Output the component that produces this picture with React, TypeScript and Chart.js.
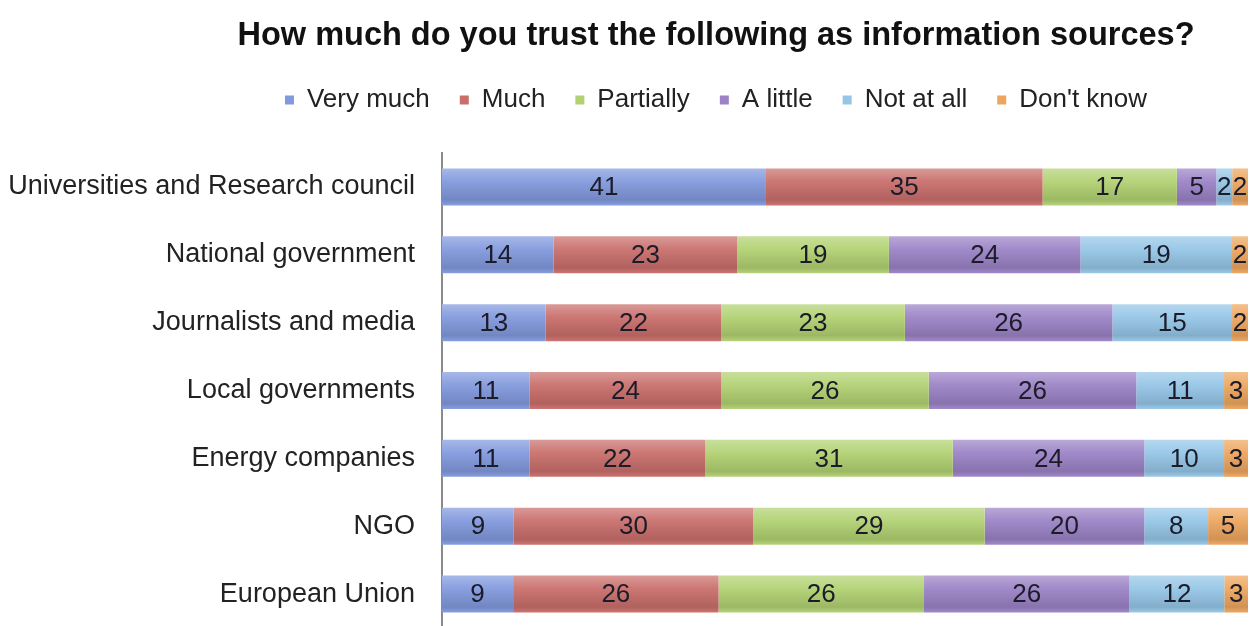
import React, { useEffect, useRef } from "react";
import { Chart, registerables } from "chart.js";

Chart.register(...registerables);

// Survey categories (rows) and answer shares per series, in percent
const categories = [
  "Universities and Research council",
  "National government",
  "Journalists and media",
  "Local governments",
  "Energy companies",
  "NGO",
  "European Union",
];
const veryMuch = [41, 14, 13, 11, 11, 9, 9];
const much = [35, 23, 22, 24, 22, 30, 26];
const partially = [17, 19, 23, 26, 31, 29, 26];
const aLittle = [5, 24, 26, 26, 24, 20, 26];
const notAtAll = [2, 19, 15, 11, 10, 8, 12];
const dontKnow = [2, 2, 2, 3, 3, 5, 3];

const seriesNames = ["Very much", "Much", "Partially", "A little", "Not at all", "Don't know"];
const seriesValues = [veryMuch, much, partially, aLittle, notAtAll, dontKnow];
const seriesColors = ["#8199dd", "#c96e6b", "#b1d172", "#9b83c6", "#95c6e7", "#eda65e"];

const TITLE = "How much do you trust the following as information sources?";
const FONT = '"Liberation Sans", Arial, Helvetica, sans-serif';
const HEADER_CENTER_X = 716;
const BAR_PCT = 0.545;

// Each row is drawn as a 100% stacked bar, so every segment is its share of the row total
const rowTotals = categories.map((_, i) => seriesValues.reduce((s, arr) => s + arr[i], 0));

function shade(hex: string, amt: number): string {
  const n = parseInt(hex.slice(1), 16);
  const t = amt < 0 ? 0 : 255;
  const p = Math.abs(amt);
  const mix = (c: number) => Math.round(c + (t - c) * p);
  return `rgb(${mix(n >> 16)},${mix((n >> 8) & 255)},${mix(n & 255)})`;
}

// Vertical gloss on each bar: lighter top, darker lower edge
function barFill(ctx: any, base: string) {
  const chart = ctx.chart;
  const y = chart.scales && chart.scales.y;
  if (ctx.type !== "data" || !y || !chart.chartArea || !y.height) return base;
  const center = y.getPixelForValue(ctx.dataIndex);
  const half = ((y.height / categories.length) * BAR_PCT) / 2;
  const g = chart.ctx.createLinearGradient(0, center - half, 0, center + half);
  g.addColorStop(0, shade(base, 0.3));
  g.addColorStop(0.35, shade(base, 0.06));
  g.addColorStop(0.85, shade(base, -0.12));
  g.addColorStop(1, shade(base, 0.05));
  return g;
}

// Writes each segment's value in the middle of its bar
const valueLabels = {
  id: "valueLabels",
  afterDatasetsDraw(chart: any) {
    const { ctx } = chart;
    ctx.save();
    ctx.font = `26px ${FONT}`;
    ctx.fillStyle = "#1b1b29";
    ctx.textAlign = "center";
    ctx.textBaseline = "middle";
    chart.data.datasets.forEach((_: any, di: number) => {
      const meta = chart.getDatasetMeta(di);
      meta.data.forEach((bar: any, i: number) => {
        const { x, base, y } = bar.getProps(["x", "base", "y"], true);
        ctx.fillText(String(seriesValues[di][i]), (x + base) / 2, y + 1);
      });
    });
    ctx.restore();
  },
};

// Centres the title and legend on a fixed x instead of the full canvas width
const centerHeader = {
  id: "centerHeader",
  afterLayout(chart: any) {
    [chart.titleBlock, chart.legend].forEach((box: any) => {
      if (!box) return;
      const half = (box.right - box.left) / 2;
      box.left = HEADER_CENTER_X - half;
      box.right = HEADER_CENTER_X + half;
    });
  },
};

export default function App() {
  const canvasRef = useRef<HTMLCanvasElement | null>(null);

  useEffect(() => {
    const canvas = canvasRef.current;
    if (!canvas) return;

    const datasets = seriesNames.map((name, si) => ({
      label: name,
      data: seriesValues[si].map((v, i) => (v / rowTotals[i]) * 100),
      backgroundColor: (ctx: any) => barFill(ctx, seriesColors[si]),
      borderWidth: 0,
      categoryPercentage: 1,
      barPercentage: BAR_PCT,
    }));

    const chart = new Chart(canvas, {
      type: "bar",
      data: { labels: categories, datasets },
      plugins: [valueLabels, centerHeader],
      options: {
        indexAxis: "y",
        responsive: false,
        animation: false,
        layout: { padding: { left: 8, right: 7, top: 0, bottom: 0 } },
        scales: {
          x: {
            type: "linear",
            position: "top",
            stacked: true,
            min: 0,
            max: 100,
            grid: { display: false, drawTicks: false },
            border: { display: false },
            ticks: { display: false },
            afterFit: (scale: any) => {
              scale.height = 30;
            },
          },
          y: {
            type: "category",
            stacked: true,
            grid: { display: false, drawTicks: false },
            border: { display: true, color: "#8a8a8a", width: 2 },
            ticks: {
              color: "#222222",
              padding: 27,
              font: { family: FONT, size: 27 },
            },
            afterFit: (scale: any) => {
              scale.width = 434;
              scale.paddingTop = 0;
              scale.paddingBottom = 0;
            },
          },
        },
        plugins: {
          title: {
            display: true,
            text: TITLE,
            color: "#111111",
            font: { family: FONT, size: 32.5, weight: "bold" },
            padding: { top: 17, bottom: 1 },
          },
          legend: {
            display: true,
            position: "top",
            labels: {
              color: "#222222",
              font: { family: FONT, size: 26 },
              boxWidth: 9,
              boxHeight: 9,
              padding: 30,
              generateLabels: (c: any) =>
                c.data.datasets.map((ds: any, i: number) => ({
                  text: ds.label,
                  fillStyle: seriesColors[i],
                  strokeStyle: seriesColors[i],
                  lineWidth: 0,
                  hidden: false,
                  datasetIndex: i,
                  fontColor: "#222222",
                })),
            },
          },
          tooltip: { enabled: false },
        },
      },
    });

    return () => chart.destroy();
  }, []);

  return (
    <div
      style={{
        position: "fixed",
        left: 0,
        top: 0,
        width: 1255,
        height: 628,
        background: "#ffffff",
      }}
    >
      <canvas ref={canvasRef} width={1255} height={628} style={{ display: "block" }} />
    </div>
  );
}
